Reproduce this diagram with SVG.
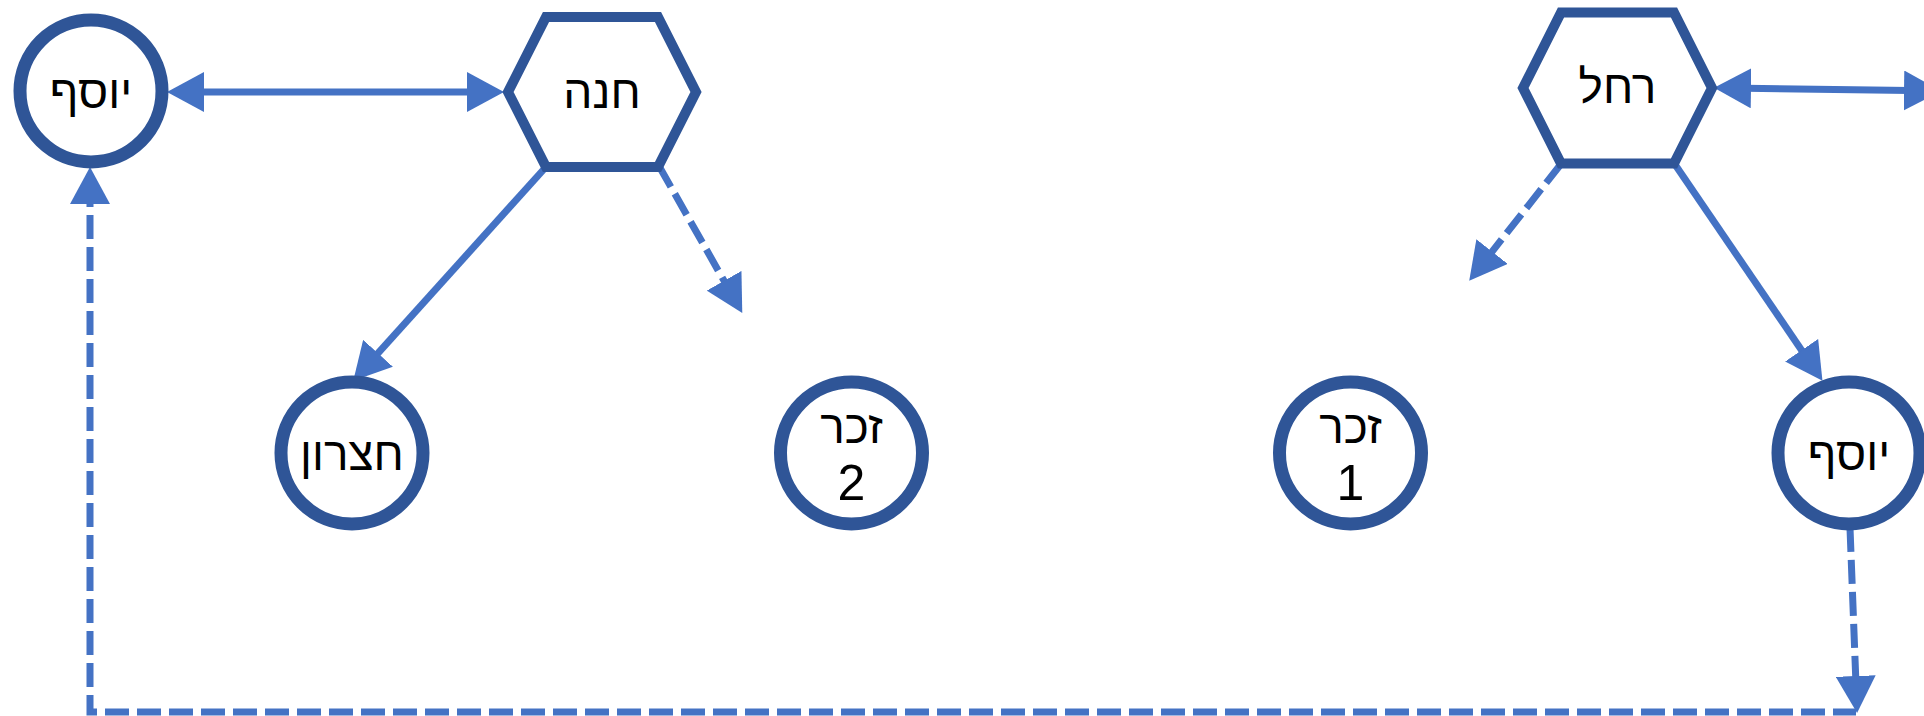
<svg xmlns="http://www.w3.org/2000/svg" width="1924" height="716" viewBox="0 0 1924 716">
<style>
.node{fill:#FFFFFF;stroke:#2F5597}
.circ{stroke-width:13}
.hex{stroke-width:10;stroke-linejoin:miter}
.lbl{font-family:"Liberation Sans","DejaVu Sans",Arial,sans-serif;font-size:46px;fill:#000000;text-anchor:middle}
.num{font-size:50px}
.con{fill:none;stroke:#4472C4;stroke-width:7}
.dash{stroke-dasharray:24 8}
</style>
<defs>
<marker id="arr" markerUnits="userSpaceOnUse" markerWidth="37" markerHeight="40" viewBox="0 0 37 40" refX="6" refY="20" orient="auto-start-reverse">
<path d="M0,0 L37,20 L0,40 z" fill="#4472C4"/>
</marker>
</defs>
<rect x="0" y="0" width="1924" height="716" fill="#FFFFFF"/>
<g id="connectors">
<line class="con" x1="198" y1="92" x2="473" y2="92" marker-start="url(#arr)" marker-end="url(#arr)"/>
<line class="con" x1="545" y1="168" x2="374" y2="357.7" marker-end="url(#arr)"/>
<line class="con dash" x1="659" y1="166" x2="727" y2="286" marker-end="url(#arr)"/>
<line class="con dash" x1="1561" y1="164" x2="1488.4" y2="256.3" marker-end="url(#arr)"/>
<line class="con" x1="1674" y1="163" x2="1805" y2="355.2" marker-end="url(#arr)"/>
<line class="con" x1="1745" y1="88.2" x2="1910" y2="90.6" marker-start="url(#arr)" marker-end="url(#arr)"/>
<line class="con dash" x1="1850" y1="528" x2="1855.9" y2="682" marker-end="url(#arr)"/>
<path class="con dash" stroke-dashoffset="1" d="M1856,712 L90,712 L90,198" marker-end="url(#arr)"/>
</g>
<g id="yosef-left">
<circle class="node circ" cx="91" cy="91" r="71"/>
<text class="lbl" x="91" y="108">יוסף</text>
</g>
<g id="hana">
<polygon class="node hex" points="508,92 546,17 658,17 696,92 658,167 546,167"/>
<text class="lbl" x="602" y="108">חנה</text>
</g>
<g id="rachel">
<polygon class="node hex" points="1523,88 1561,12.5 1674,12.5 1712,88 1674,163.5 1561,163.5"/>
<text class="lbl" x="1617.5" y="103">רחל</text>
</g>
<g id="hezron">
<circle class="node circ" cx="352" cy="453" r="71"/>
<text class="lbl" x="352" y="470">חצרון</text>
</g>
<g id="zachar2">
<circle class="node circ" cx="851.5" cy="453" r="71"/>
<text class="lbl" x="851.5" y="443">זכר</text>
<text class="lbl num" x="851.5" y="500">2</text>
</g>
<g id="zachar1">
<circle class="node circ" cx="1350.5" cy="453" r="71"/>
<text class="lbl" x="1350.5" y="443">זכר</text>
<text class="lbl num" x="1350.5" y="500">1</text>
</g>
<g id="yosef-right">
<circle class="node circ" cx="1849" cy="453" r="71"/>
<text class="lbl" x="1849" y="470">יוסף</text>
</g>
</svg>
